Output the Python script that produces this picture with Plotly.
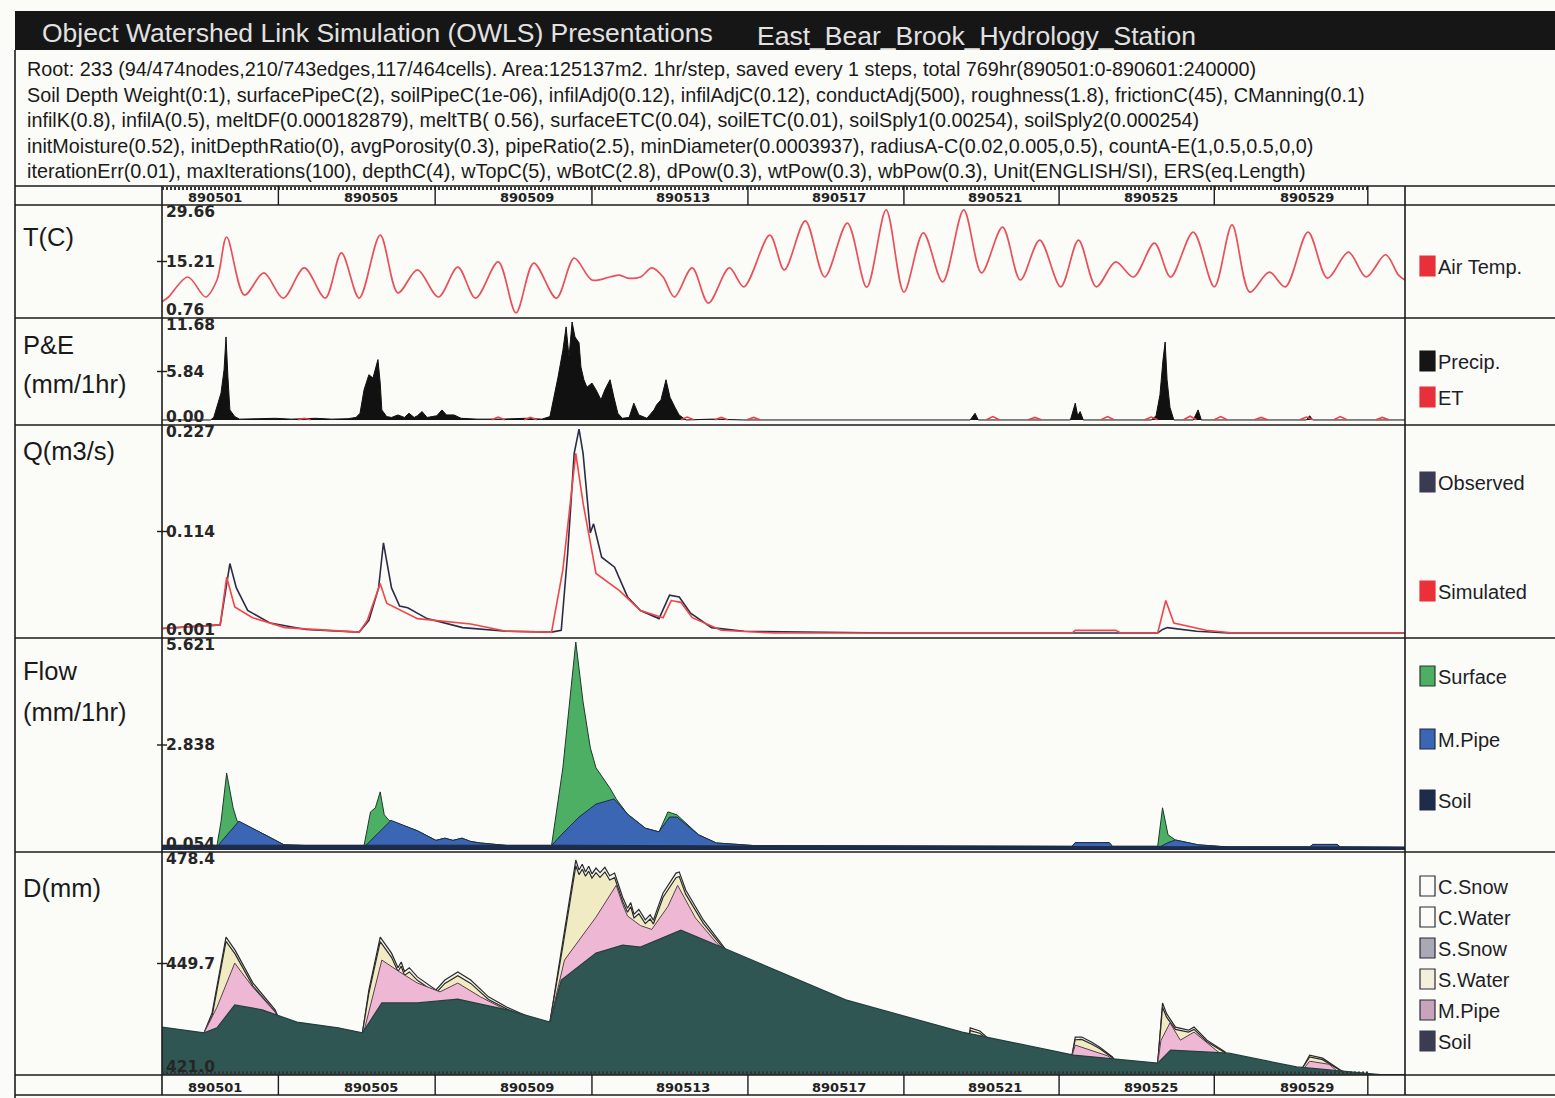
import plotly.graph_objects as go

W, H = 1555, 1098

# ---------------- text content ----------------
title_left = "Object Watershed Link Simulation (OWLS) Presentations"
title_right = "East_Bear_Brook_Hydrology_Station"
info_lines = [
    "Root: 233 (94/474nodes,210/743edges,117/464cells). Area:125137m2. 1hr/step, saved every 1 steps, total 769hr(890501:0-890601:240000)",
    "Soil Depth Weight(0:1), surfacePipeC(2), soilPipeC(1e-06), infilAdj0(0.12), infilAdjC(0.12), conductAdj(500), roughness(1.8), frictionC(45), CManning(0.1)",
    "infilK(0.8), infilA(0.5), meltDF(0.000182879), meltTB( 0.56), surfaceETC(0.04), soilETC(0.01), soilSply1(0.00254), soilSply2(0.000254)",
    "initMoisture(0.52), initDepthRatio(0), avgPorosity(0.3), pipeRatio(2.5), minDiameter(0.0003937), radiusA-C(0.02,0.005,0.5), countA-E(1,0.5,0.5,0,0)",
    "iterationErr(0.01), maxIterations(100), depthC(4), wTopC(5), wBotC(2.8), dPow(0.3), wtPow(0.3), wbPow(0.3), Unit(ENGLISH/SI), ERS(eq.Length)",
]
date_labels = ["890501", "890505", "890509", "890513", "890517", "890521", "890525", "890529"]
date_label_hr = [33, 129.5, 226, 322.5, 419, 515.5, 612, 708.5]
date_sep_hr = [72, 169, 266, 362.5, 459, 555, 651, 746]

t_ticks = ["29.66", "15.21", "0.76"]
p_ticks = ["11.68", "5.84", "0.00"]
q_ticks = ["0.227", "0.114", "0.001"]
f_ticks = ["5.621", "2.838", "0.054"]
d_ticks = ["478.4", "449.7", "421.0"]

# ---------------- series ----------------
# Air temperature (C), hour vs value (peaks / troughs)
t_hr = [0, 4, 16, 27, 34, 40, 51, 63, 75, 88, 101, 111, 122, 135, 146, 158, 171, 183,
        194, 208, 219, 230, 244, 255, 266, 277, 283, 288, 296, 303, 310, 317, 328, 338,
        351, 360, 376, 385, 398, 410, 424, 436, 448, 459, 471, 483, 496, 507, 520, 531,
        543, 556, 567, 578, 590, 601, 614, 624, 638, 651, 662, 673, 685, 695, 709, 721,
        734, 745, 757, 765, 769]
t_val = [4.5, 5.8, 11.1, 5.8, 10.3, 21.7, 6.3, 12.2, 5.5, 13.5, 5.5, 17.5, 5.5, 22.2,
         6.9, 13.0, 5.8, 13.7, 5.5, 15.1, 1.6, 14.8, 5.5, 16.1, 10.3, 11.1, 11.6, 10.8,
         11.1, 13.5, 11.1, 5.8, 13.5, 4.2, 13.5, 8.5, 22.2, 13.0, 26.0, 11.1, 25.4, 8.4,
         28.9, 7.1, 22.8, 9.8, 28.9, 12.2, 24.3, 10.3, 20.9, 8.5, 20.9, 8.5, 15.1, 11.1,
         20.1, 11.1, 23.0, 8.5, 24.9, 7.1, 12.4, 8.5, 23.0, 10.8, 17.7, 11.1, 17.0, 11.6,
         10.3]

# Precipitation (mm/1hr)
precip_hr = [0, 30, 32, 34, 36.5, 38.4, 39.6, 40.8, 42, 45, 48, 60, 70, 80, 95, 105, 115,
             120, 122.5, 125, 128, 130.5, 133.6, 135, 136, 139, 142, 146, 150, 152.8, 156,
             158, 160.9, 164, 170, 173.2, 176, 180.7, 185, 195, 210, 225, 235, 240, 242.5,
             245, 248, 250, 251.8, 253.7, 255.5, 258, 259.2, 261, 262.9, 266, 268.5, 271.6,
             274, 277.2, 279.6, 282, 284.7, 289, 291.9, 295, 300, 304.4, 306, 308.7, 311.8,
             314.3, 317.4, 319.9, 324.2, 340, 360, 500, 503, 505, 562, 565, 566.5, 568, 570,
             612, 615, 617.4, 619.3, 620.6, 621.8, 623.6, 626, 638, 641, 643, 708, 710, 712,
             769]
precip_val = [0, 0, 0.3, 1.5, 3.2, 6.0, 9.9, 5.1, 1.2, 0.4, 0.1, 0.15, 0.2, 0.1, 0.2, 0.1,
              0.15, 0.3, 0.8, 3.6, 5.4, 5.0, 7.2, 4.4, 1.2, 0.4, 0.3, 0.6, 0.3, 0.8, 0.3,
              0.5, 1.0, 0.3, 0.5, 1.2, 0.6, 0.6, 0.2, 0.1, 0.1, 0.2, 0.1, 0.4, 2.7, 5.1,
              8.3, 11.1, 7.5, 11.68, 9.9, 9.2, 6.3, 4.8, 3.9, 4.4, 3.6, 2.4, 3.6, 4.8, 2.7,
              0.8, 0.2, 0.3, 2.0, 0.6, 0.2, 1.2, 1.8, 2.4, 4.8, 2.7, 1.5, 0.6, 0, 0.1, 0,
              0, 0.8, 0, 0, 2.0, 0.5, 1.0, 0, 0, 0.5, 3.0, 7.2, 9.3, 4.8, 1.5, 0, 0, 1.2,
              0, 0, 0.5, 0, 0]

# Evapotranspiration (mm/1hr): daytime peaks
et_peak_hr = [88, 208, 228, 325, 346, 366, 514, 540, 585, 612, 636, 655, 680, 708, 729, 755]
et_peak_val = [0.2, 0.35, 0.3, 0.35, 0.3, 0.3, 0.4, 0.3, 0.4, 0.35, 0.45, 0.4, 0.3, 0.35, 0.4, 0.3]

# Discharge Q (m3/s)
q_obs_hr = [0, 36, 42, 46, 53, 67, 89, 122, 128, 134, 137, 142, 147, 152, 164, 186, 213,
            241, 247, 251, 255, 258, 260.5, 265, 267, 272, 280, 288, 296, 307.5, 314, 320,
            327, 340, 360, 450, 616, 619, 622, 640, 660, 769]
q_obs = [0.006, 0.010, 0.078, 0.051, 0.026, 0.012, 0.005, 0.002, 0.015, 0.051, 0.101,
         0.051, 0.031, 0.029, 0.017, 0.007, 0.003, 0.002, 0.004, 0.090, 0.200, 0.227,
         0.200, 0.112, 0.122, 0.085, 0.074, 0.041, 0.026, 0.017, 0.043, 0.041, 0.023,
         0.007, 0.003, 0.001, 0.001, 0.005, 0.007, 0.003, 0.001, 0.001]
q_sim_hr = [0, 36, 40, 45, 56, 76, 122, 127, 135, 139, 158, 181, 191, 213, 241, 248, 254,
            256, 260.5, 268.5, 283, 296, 310, 315, 321, 328, 346, 379, 563, 565, 590, 593,
            616, 621, 626, 646, 663, 769]
q_sim = [0.006, 0.010, 0.063, 0.030, 0.018, 0.007, 0.002, 0.015, 0.056, 0.034, 0.017,
         0.013, 0.011, 0.003, 0.002, 0.071, 0.163, 0.200, 0.145, 0.067, 0.048, 0.026,
         0.018, 0.037, 0.035, 0.018, 0.004, 0.001, 0.001, 0.004, 0.004, 0.001, 0.001,
         0.037, 0.012, 0.004, 0.001, 0.001]

# Flow (mm/1hr) - cumulative tops of stacked layers
flow_total_hr = [0, 34, 36.5, 40, 44, 46.5, 62, 75.5, 89, 125, 129, 132, 135, 137.5, 140.5,
                 158, 169.5, 175, 180, 185.6, 191, 197, 213.5, 241, 248, 254, 256, 260.5,
                 265, 268.5, 277, 281, 288, 299, 307.5, 313, 318.6, 332, 343, 366, 563, 565,
                 586, 588, 616, 619, 622.4, 627, 641, 660, 710, 712, 727, 729, 769]
flow_total = [0.12, 0.12, 0.76, 2.08, 1.14, 0.78, 0.45, 0.14, 0.12, 0.12, 1.03, 1.14, 1.57,
              0.95, 0.80, 0.52, 0.26, 0.32, 0.26, 0.32, 0.23, 0.19, 0.12, 0.12, 2.22, 4.92,
              5.62, 4.0, 2.76, 2.22, 1.68, 1.38, 0.97, 0.59, 0.49, 1.03, 0.95, 0.41, 0.19,
              0.12, 0.10, 0.20, 0.20, 0.10, 0.10, 1.14, 0.41, 0.27, 0.14, 0.08, 0.08, 0.15,
              0.15, 0.08, 0.07]
flow_pipe_hr = [0, 35, 36.5, 47.6, 62, 75.5, 89, 126, 141.7, 158, 169.5, 175, 180, 185.6,
                191, 197, 213.5, 241, 247, 258, 268.5, 279.6, 288, 299, 307.5, 314, 318.6,
                332, 343, 366, 563, 565, 586, 588, 618, 622.4, 627, 641, 660, 710, 712, 727,
                729, 769]
flow_pipe = [0.12, 0.12, 0.22, 0.78, 0.45, 0.14, 0.12, 0.12, 0.80, 0.52, 0.26, 0.32, 0.26,
             0.32, 0.23, 0.19, 0.12, 0.12, 0.41, 0.89, 1.24, 1.38, 0.97, 0.59, 0.49, 0.89,
             0.89, 0.41, 0.19, 0.12, 0.10, 0.20, 0.20, 0.10, 0.10, 0.20, 0.27, 0.14, 0.08,
             0.08, 0.15, 0.15, 0.08, 0.07]
flow_soil_hr = [0, 250, 400, 769]
flow_soil = [0.13, 0.13, 0.10, 0.08]

# Depth D (mm) - cumulative tops of layers
d_cwater_hr = ([0, 24, 26, 31, 39.6, 45.2, 56.3, 70, 78, 120]
               + [123, 124, 128, 135, 142, 146, 148, 150, 153, 158, 169.5, 175, 183, 191, 202,
                  213.5, 227, 236, 240, 248, 256, 258, 260, 262, 264, 266, 268.5, 271, 274,
                  277, 280, 285, 288, 290, 292, 295, 299, 302, 304, 307, 310, 318, 320, 324,
                  335, 349, 352, 360, 380]
               + [495, 497, 500, 506, 511, 515]
               + [555, 563, 565, 569, 575, 580, 588, 595]
               + [610, 616, 619, 621.5, 627, 635, 638.5, 646.5, 657.7, 665]
               + [700, 706, 710, 718, 729, 735, 769])
d_cwater = ([421, 421, 432.0, 437.2, 457.0, 453.6, 445.0, 438.0, 430, 421]
            + [421, 432.0, 443.2, 457.0, 452.8, 449.0, 450.5, 448.0, 449.0, 446.6, 443.2,
               445.8, 447.9, 445.8, 441.4, 438.7, 436.1, 434.8, 434.8, 455.7, 477.1, 474.5,
               476.0, 474.0, 475.5, 473.5, 475.0, 473.8, 475.2, 473.0, 473.7, 467.4, 464.5,
               466.0, 463.0, 464.2, 461.5, 462.8, 461.4, 465.0, 468.5, 473.7, 474.0, 469.3,
               461.4, 453.6, 452.5, 440, 421]
            + [421, 421, 433.3, 432.5, 430.6, 421]
            + [421, 426.2, 430.9, 430.9, 429.6, 428.3, 425.7, 421]
            + [421, 424.1, 439.8, 437.0, 433.5, 432.7, 433.5, 430.1, 427.0, 421]
            + [421, 423.1, 426.2, 425.4, 422.3, 421, 421])
d_swater = ([421, 421, 432.0, 436.4, 455.9, 452.6, 444.2, 437.5, 430, 421]
            + [421, 432.0, 442.4, 455.8, 451.7, 448.0, 449.4, 447.0, 447.9, 445.7, 442.4,
               444.9, 446.9, 444.9, 440.7, 438.2, 435.8, 434.8, 434.8, 454.6, 475.6, 473.3,
               474.7, 472.9, 474.2, 472.4, 473.8, 472.6, 474.0, 471.9, 472.5, 466.3, 463.5,
               464.9, 462.0, 463.1, 460.5, 461.7, 460.4, 464.0, 467.4, 472.5, 472.8, 468.2,
               460.5, 453.2, 452.3, 440, 421]
            + [421, 421, 432.6, 431.9, 430.2, 421]
            + [421, 426.2, 430.2, 430.3, 429.1, 427.9, 425.5, 421]
            + [421, 424.1, 438.7, 436.1, 432.9, 432.2, 432.9, 429.7, 426.8, 421]
            + [421, 423.1, 425.7, 425.0, 422.2, 421, 421])
d_pipe_hr = [0, 24, 26, 34, 45, 56, 70, 78, 120, 123, 125, 136, 147, 158, 172, 183, 197,
             213.5, 222, 235, 238, 240, 249, 268.5, 281, 285, 288, 296, 303, 313, 319, 330,
             343, 352, 360, 380, 555, 563, 565, 585, 590, 600, 612, 616, 618, 623.6, 630,
             638.5, 652, 660, 670, 700, 707, 710, 722, 730, 769]
d_pipe = [421, 421, 432.0, 438.7, 450.2, 444.0, 437.4, 430, 421, 421, 432.5, 451.0, 447.9,
          445.0, 442.7, 445.0, 441.4, 437.8, 430, 421, 421, 434.8, 451.0, 462.2, 470.5,
          465.5, 462.5, 460.0, 459.0, 465.0, 470.5, 462.0, 455.5, 452, 440, 421, 421, 426.0,
          428.8, 426.0, 424.5, 421, 421, 424.1, 430, 434.6, 430.1, 432.2, 427.5, 425, 421,
          421, 423, 424.6, 423.8, 421, 421]
d_soil_hr = [0, 20, 26, 34, 45, 62, 83.5, 109, 124, 136, 158, 183, 213.5, 240, 247, 268.5,
             285, 296, 321, 346, 379, 423, 495, 564, 616, 624, 660, 702, 757, 769]
d_soil = [433.5, 432.2, 432.0, 433.3, 439.3, 438.0, 434.8, 433.3, 432.0, 439.8, 439.8,
          440.8, 438.0, 434.8, 445.8, 452.8, 454.9, 454.4, 458.8, 454.4, 448.4, 440.6, 432.2,
          426.2, 424.1, 427.5, 426.7, 423.1, 421.0, 421.0]

# ---------------- geometry helpers (pixel -> paper) ----------------
def px(x):
    return x / W


def py(y):
    return 1 - y / H


X0, X1 = 162, 1405
panel_px = [(205, 318), (318, 425), (425, 638), (638, 852), (852, 1075)]
panel_rng = [[0.23, 30.19], [-0.6, 12.16], [-0.0045, 0.2315], [-0.054, 5.728], [421.0, 479.2]]

fig = go.Figure()

RED = "#e8434c"
NAVY = "#2c2c46"
OUT = "#2a2a2a"


def ax(i):
    return ("x" if i == 1 else f"x{i}"), ("y" if i == 1 else f"y{i}")


# T panel
xa, ya = ax(1)
fig.add_trace(go.Scatter(x=t_hr, y=t_val, mode="lines", line=dict(color="#e8505a", width=1.7,
                                                                   shape="spline", smoothing=0.9),
                         xaxis=xa, yaxis=ya, hoverinfo="skip"))

# P&E panel
xa, ya = ax(2)
fig.add_trace(go.Scatter(x=precip_hr, y=precip_val, mode="lines", fill="tozeroy",
                         fillcolor="#111111", line=dict(color="#111111", width=1),
                         xaxis=xa, yaxis=ya, hoverinfo="skip"))
et_x, et_y = [], []
for h, v in zip(et_peak_hr, et_peak_val):
    et_x += [h - 4, h, h + 4, None]
    et_y += [0.02, v, 0.02, None]
fig.add_trace(go.Scatter(x=et_x, y=et_y, mode="lines", line=dict(color=RED, width=1.6),
                         connectgaps=False, xaxis=xa, yaxis=ya, hoverinfo="skip"))

# Q panel
xa, ya = ax(3)
fig.add_trace(go.Scatter(x=q_obs_hr, y=q_obs, mode="lines", line=dict(color=NAVY, width=1.6),
                         xaxis=xa, yaxis=ya, hoverinfo="skip"))
fig.add_trace(go.Scatter(x=q_sim_hr, y=q_sim, mode="lines", line=dict(color="#f0454a", width=1.6),
                         xaxis=xa, yaxis=ya, hoverinfo="skip"))

# Flow panel (painted back to front)
xa, ya = ax(4)
fig.add_trace(go.Scatter(x=flow_total_hr, y=flow_total, mode="lines", fill="tozeroy",
                         fillcolor="#4caf63", line=dict(color="#1e3a30", width=1),
                         xaxis=xa, yaxis=ya, hoverinfo="skip"))
fig.add_trace(go.Scatter(x=flow_pipe_hr, y=flow_pipe, mode="lines", fill="tozeroy",
                         fillcolor="#3b66b4", line=dict(color="#1d2c4c", width=1),
                         xaxis=xa, yaxis=ya, hoverinfo="skip"))
fig.add_trace(go.Scatter(x=flow_soil_hr, y=flow_soil, mode="lines", fill="tozeroy",
                         fillcolor="#1e2c4a", line=dict(color="#1e2c4a", width=1),
                         xaxis=xa, yaxis=ya, hoverinfo="skip"))

# D panel (painted back to front)
xa, ya = ax(5)
fig.add_trace(go.Scatter(x=d_cwater_hr, y=d_cwater, mode="lines", fill="tozeroy",
                         fillcolor="#f4f4ee", line=dict(color=OUT, width=1.2),
                         xaxis=xa, yaxis=ya, hoverinfo="skip"))
fig.add_trace(go.Scatter(x=d_cwater_hr, y=d_swater, mode="lines", fill="tozeroy",
                         fillcolor="#f1ebc4", line=dict(color=OUT, width=1.2),
                         xaxis=xa, yaxis=ya, hoverinfo="skip"))
fig.add_trace(go.Scatter(x=d_pipe_hr, y=d_pipe, mode="lines", fill="tozeroy",
                         fillcolor="#eeb7d4", line=dict(color="#5a4050", width=1),
                         xaxis=xa, yaxis=ya, hoverinfo="skip"))
fig.add_trace(go.Scatter(x=d_soil_hr, y=d_soil, mode="lines", fill="tozeroy",
                         fillcolor="#2f5653", line=dict(color="#23403e", width=1.2),
                         xaxis=xa, yaxis=ya, hoverinfo="skip"))

layout_axes = {}
for i, ((top, bot), rng) in enumerate(zip(panel_px, panel_rng), start=1):
    xn = "xaxis" if i == 1 else f"xaxis{i}"
    yn = "yaxis" if i == 1 else f"yaxis{i}"
    layout_axes[xn] = dict(domain=[px(X0), px(X1)], range=[0, 769], visible=False,
                           anchor=("y" if i == 1 else f"y{i}"), fixedrange=True)
    layout_axes[yn] = dict(domain=[py(bot), py(top)], range=rng, visible=False,
                           anchor=("x" if i == 1 else f"x{i}"), fixedrange=True)

shapes = []
ann = []
LINE = "#1c1c1c"


def hline(y, x0=15, x1=W, w=1.6, color=LINE, dash=None):
    d = dict(type="line", xref="paper", yref="paper", x0=px(x0), x1=px(x1), y0=py(y), y1=py(y),
             line=dict(color=color, width=w))
    if dash:
        d["line"]["dash"] = dash
    shapes.append(d)


def vline(x, y0, y1, w=1.6, color=LINE):
    shapes.append(dict(type="line", xref="paper", yref="paper", x0=px(x), x1=px(x),
                       y0=py(y0), y1=py(y1), line=dict(color=color, width=w)))


def text(x, y, s, size, color="#1a1a1a", family="Liberation Sans", xanchor="left",
         yanchor="middle"):
    ann.append(dict(x=px(x), y=py(y), xref="paper", yref="paper", text=s, showarrow=False,
                    xanchor=xanchor, yanchor=yanchor,
                    font=dict(size=size, color=color, family=family)))


# header bar
shapes.append(dict(type="rect", xref="paper", yref="paper", x0=px(15), x1=px(W), y0=py(50),
                   y1=py(11), fillcolor="#161616", line=dict(width=0), layer="below"))
text(40, 33, title_left, 26.5, color="#e2e2e2")
text(755, 36, title_right, 26.5, color="#e2e2e2")
for k, s in enumerate(info_lines):
    text(25, 69 + k * 25.6, s, 19.8, color="#1a1a1a")

# frame lines
for y in [186, 205, 318, 425, 638, 852, 1075, 1095]:
    hline(y)
vline(15, 50, 1098)
vline(X0, 186, 1095)
vline(X1, 186, 1095)
# hourly tick rows
hline(188.5, X0, 1368, w=3, color="#333333", dash="2px,2px")
hline(1073, X0, 1368, w=3, color="#333333", dash="2px,2px")

# date bands
for h in date_sep_hr:
    for y0, y1 in [(186, 205), (1075, 1095)]:
        shapes.append(dict(type="line", xref="x", yref="paper", x0=h, x1=h, y0=py(y1), y1=py(y0),
                           line=dict(color=LINE, width=1.4)))
for h, s in zip(date_label_hr, date_labels):
    for yy in [197, 1087]:
        ann.append(dict(x=h, y=py(yy), xref="x", yref="paper", text="<b>" + s + "</b>",
                        showarrow=False, xanchor="center", yanchor="middle",
                        font=dict(size=13, color="#222222", family="DejaVu Sans")))

# axis labels inside panels (bold small)
tick_sets = [t_ticks, p_ticks, q_ticks, f_ticks, d_ticks]
for (top, bot), labels in zip(panel_px, tick_sets):
    mid = (top + bot) / 2
    ys = [top + 7, mid, bot - 8]
    for yy, s in zip(ys, labels):
        text(164, yy, "<b>" + s + "</b>", 15.5, color="#262626", family="DejaVu Sans")
    shapes.append(dict(type="line", xref="paper", yref="paper", x0=px(157), x1=px(167),
                       y0=py(mid), y1=py(mid), line=dict(color=LINE, width=1.4)))

# left panel titles
NARROW = "Liberation Sans Narrow, Liberation Sans"
LS = 25.5
text(21, 237, "T(C)", LS, family=NARROW)
text(21, 345, "P&E", LS, family=NARROW)
text(21, 384, "(mm/1hr)", LS, family=NARROW)
text(21, 451, "Q(m3/s)", LS, family=NARROW)
text(21, 671, "Flow", LS, family=NARROW)
text(21, 712, "(mm/1hr)", LS, family=NARROW)
text(21, 888, "D(mm)", LS, family=NARROW)

# right-hand legends
legend_items = [
    ("Air Temp.", 266, "#e8303a", "#e8303a"),
    ("Precip.", 361, "#151515", "#151515"),
    ("ET", 397, "#e8303a", "#e8303a"),
    ("Observed", 482, "#3a3a52", "#3a3a52"),
    ("Simulated", 591, "#ec3038", "#ec3038"),
    ("Surface", 676, "#4caf63", "#2a3a30"),
    ("M.Pipe", 739, "#3b66b4", "#1d2c4c"),
    ("Soil", 800, "#1e2c4a", "#1e2c4a"),
    ("C.Snow", 886, "#fbfbf8", "#2a2a38"),
    ("C.Water", 917, "#fbfbf8", "#2a2a38"),
    ("S.Snow", 948, "#a9a9b4", "#2a2a38"),
    ("S.Water", 979, "#f3efdc", "#2a2a38"),
    ("M.Pipe", 1010, "#c9a3bb", "#2a2a38"),
    ("Soil", 1041, "#3b3b52", "#3b3b52"),
]
for s, yc, fc, lc in legend_items:
    shapes.append(dict(type="rect", xref="paper", yref="paper", x0=px(1420), x1=px(1435),
                       y0=py(yc + 10), y1=py(yc - 10), fillcolor=fc, line=dict(color=lc, width=1.2)))
    text(1436, yc + 1, s, 20, color="#1e1e26", family=NARROW)

fig.update_layout(
    width=W, height=H, margin=dict(l=0, r=0, t=0, b=0),
    paper_bgcolor="#fbfbf8", plot_bgcolor="#fbfbf8",
    showlegend=False, shapes=shapes, annotations=ann,
    **layout_axes,
)

fig.write_html("out.html")
